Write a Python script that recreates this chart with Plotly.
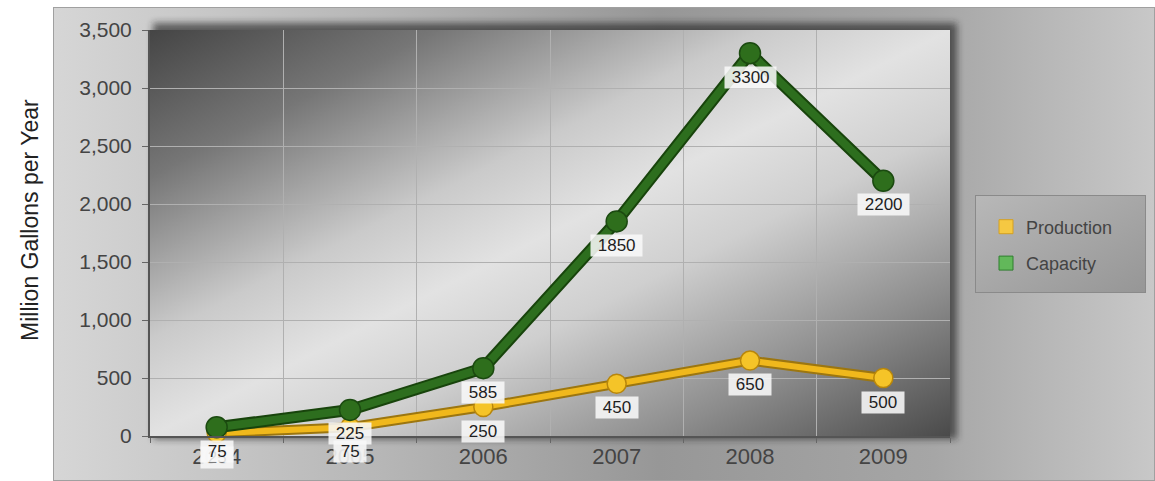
import base64
import plotly.graph_objects as go

# ---- data ----
years = ["2004", "2005", "2006", "2007", "2008", "2009"]
production = [25, 75, 250, 450, 650, 500]
capacity = [75, 225, 585, 1850, 3300, 2200]
series_names = ["Production", "Capacity"]
y_title = "Million Gallons per Year"

# ---- geometry (pixels) ----
W, H = 1155, 481
L, R, T, B = 150, 205, 30, 45
PW, PH = W - L - R, H - T - B

def px_x(px):
    return (px - L) / PW

def px_y(py):
    return (H - B - py) / PH

# background artwork (frame, shadow, plot gradient, legend box) as SVG
svg = f'''<svg xmlns="http://www.w3.org/2000/svg" width="1102" height="474" viewBox="53 7 1102 474" preserveAspectRatio="none">
<defs>
<linearGradient id="og" x1="0" y1="0" x2="1" y2="0">
 <stop offset="0" stop-color="#d6d6d6"/>
 <stop offset="0.3" stop-color="#b6b6b6"/>
 <stop offset="0.55" stop-color="#979797"/>
 <stop offset="0.8" stop-color="#a6a6a6"/>
 <stop offset="1" stop-color="#c8c8c8"/>
</linearGradient>
<linearGradient id="ig" x1="0" y1="0" x2="1" y2="1">
 <stop offset="0" stop-color="#454545"/>
 <stop offset="0.18" stop-color="#767676"/>
 <stop offset="0.38" stop-color="#cacaca"/>
 <stop offset="0.5" stop-color="#e2e2e2"/>
 <stop offset="0.62" stop-color="#cfcfcf"/>
 <stop offset="0.82" stop-color="#8c8c8c"/>
 <stop offset="1" stop-color="#4a4a4a"/>
</linearGradient>
<linearGradient id="lg" x1="0" y1="0" x2="1" y2="1">
 <stop offset="0" stop-color="#b8b8b8"/>
 <stop offset="1" stop-color="#969696"/>
</linearGradient>
<filter id="blur" x="-10%" y="-10%" width="120%" height="120%"><feGaussianBlur stdDeviation="3.5"/></filter>
</defs>
<rect x="53.5" y="7.5" width="1101" height="473" fill="url(#og)" stroke="#a0a0a0" stroke-width="1"/>
<rect x="153" y="23" width="804" height="416" fill="#222222" opacity="0.65" filter="url(#blur)"/>
<rect x="150" y="30" width="800" height="406" fill="url(#ig)"/>
<rect x="975.5" y="195.5" width="170" height="97" fill="url(#lg)" stroke="#8a8a8a" stroke-width="1"/>
</svg>'''
svg_uri = "data:image/svg+xml;base64," + base64.b64encode(svg.encode()).decode()

FONT = "Liberation Sans, Arial"
fig = go.Figure()

# production
fig.add_trace(go.Scatter(x=years, y=production, mode="lines", showlegend=False, hoverinfo="skip",
                         line=dict(color="#9c7610", width=10), cliponaxis=False))
fig.add_trace(go.Scatter(x=years, y=production, mode="lines+markers", showlegend=False,
                         name=series_names[0], cliponaxis=False,
                         line=dict(color="#f0b81c", width=6),
                         marker=dict(size=19, color="#f5c428", line=dict(color="#b8860b", width=1.5))))
# capacity
fig.add_trace(go.Scatter(x=years, y=capacity, mode="lines", showlegend=False, hoverinfo="skip",
                         line=dict(color="#18440c", width=12), cliponaxis=False))
fig.add_trace(go.Scatter(x=years, y=capacity, mode="lines+markers", showlegend=False,
                         name=series_names[1], cliponaxis=False,
                         line=dict(color="#2d6e1e", width=8),
                         marker=dict(size=21, color="#2e6e1c", line=dict(color="#1b4a10", width=1.5))))

# legend entries (square swatches)
fig.add_trace(go.Scatter(x=[None], y=[None], mode="markers", name=series_names[0], legendgroup="p",
                         marker=dict(symbol="square", size=14, color="#f5c842", line=dict(color="#d4a020", width=1))))
fig.add_trace(go.Scatter(x=[None], y=[None], mode="markers", name=series_names[1], legendgroup="c",
                         marker=dict(symbol="square", size=14, color="#62b85a", line=dict(color="#2f7f2f", width=1))))

NB = "\u00a0"
annotations = []
for vals in (production, capacity):
    for i, v in enumerate(vals):
        annotations.append(dict(x=i, y=v, xref="x", yref="y", text=NB + str(v) + NB, showarrow=False,
                                yshift=-24, height=17, borderpad=2,
                                bgcolor="rgba(248,248,248,0.88)",
                                font=dict(family=FONT, size=17, color="#1e1e1e")))
annotations.append(dict(x=px_x(30), y=px_y(220), xref="paper", yref="paper", text=y_title,
                        showarrow=False, textangle=-90, xanchor="center", yanchor="middle",
                        font=dict(family=FONT, size=23, color="#222222")))

fig.update_layout(
    width=W, height=H,
    margin=dict(l=L, r=R, t=T, b=B),
    paper_bgcolor="white",
    plot_bgcolor="rgba(0,0,0,0)",
    font=dict(family=FONT, color="#444444"),
    images=[dict(source=svg_uri, xref="paper", yref="paper", x=px_x(53), y=px_y(7),
                 sizex=1102 / PW, sizey=474 / PH, xanchor="left", yanchor="top",
                 sizing="stretch", layer="below")],
    annotations=annotations,
    showlegend=True,
    legend=dict(x=px_x(986), y=px_y(245), xanchor="left", yanchor="middle",
                bgcolor="rgba(0,0,0,0)", borderwidth=0, tracegroupgap=10,
                font=dict(family=FONT, size=18, color="#444444")),
    xaxis=dict(type="category", range=[-0.5, 5.5], tickson="boundaries",
               showgrid=True, gridcolor="#b0b0b0", gridwidth=1,
               ticks="outside", ticklen=5, tickcolor="#666666",
               showline=True, linecolor="#555555", linewidth=2,
               tickfont=dict(size=22, color="#444444")),
    yaxis=dict(range=[0, 3500], dtick=500, tickformat=",",
               showgrid=True, gridcolor="#b0b0b0", gridwidth=1, zeroline=False,
               ticks="outside", ticklen=6, tickcolor="#666666", ticklabelstandoff=6,
               showline=True, linecolor="#555555", linewidth=2,
               tickfont=dict(size=21, color="#444444")),
)

fig.write_html("out.html")
